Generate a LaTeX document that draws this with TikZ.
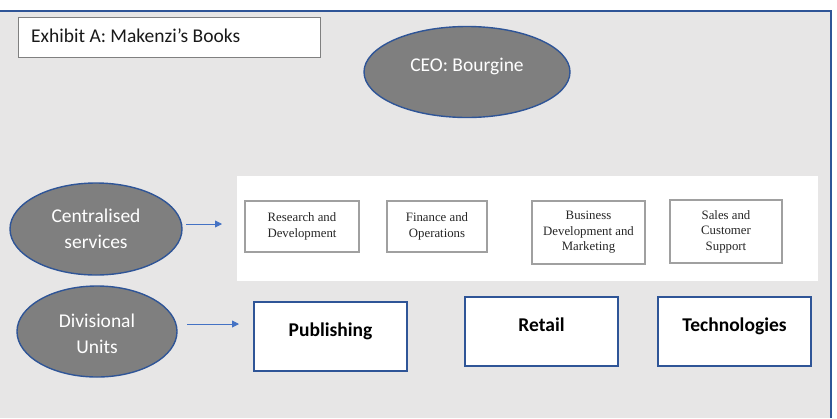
\documentclass[tikz,border=0pt]{standalone}
\usepackage{fontspec}
\setmainfont{Carlito}
\newfontfamily\serifbox{Liberation Serif}
\usetikzlibrary{shapes.geometric,arrows.meta}
\definecolor{bggray}{HTML}{E7E6E6}
\definecolor{ellfill}{HTML}{7F7F7F}
\definecolor{ellline}{HTML}{2F5597}
\definecolor{arrblue}{HTML}{4472C4}
\definecolor{boxgray}{HTML}{A0A0A0}
\definecolor{titleline}{HTML}{808080}
\tikzset{
  ell/.style={ellipse, draw=ellline, fill=ellfill, line width=1.4pt, text=white, align=center, inner sep=0pt,
    font=\fontsize{19.5}{26}\selectfont},
  graybox/.style={rectangle, draw=boxgray, fill=white, line width=2.8pt, align=center, inner sep=0pt,
    font=\serifbox\fontsize{12.8}{15.5}\selectfont, text=black!85},
  bluebox/.style={rectangle, draw=ellline, fill=white, line width=1.6pt, inner sep=0pt,
    font=\bfseries\fontsize{19.5}{24}\selectfont, text=black},
  conn/.style={draw=arrblue, line width=0.9pt, -{Triangle[length=7pt,width=7pt]}}
}
\begin{document}
\begin{tikzpicture}[x=1pt,y=-1pt]
\useasboundingbox (0,0) rectangle (837,418);
% outer frame
\fill[bggray] (0,11) rectangle (831,418);
\draw[ellline, line width=1.5pt] (0,11) -- (831,11) -- (831,418);
% title
\node[draw=titleline, fill=white, line width=0.8pt, minimum width=302, minimum height=40, inner sep=0pt,
  anchor=north west] (title) at (18,17) {};
\node[anchor=west, inner sep=0pt, font=\fontsize{19.5}{24}\selectfont, text=black!90] (titletext) at (31,36) {Exhibit A: Makenzi’s Books};
% CEO
\node[ell, minimum width=206, minimum height=91] (ceo) at (467,72) {\raisebox{14pt}{CEO: Bourgine}};
% left ellipses
\node[ell, minimum width=172, minimum height=92] (cs) at (96,229) {\raisebox{-6.9pt}[0pt][0pt]{\begin{tabular}{@{}c@{}}Centralised\\services\end{tabular}}};
\node[ell, minimum width=160, minimum height=91] (du) at (97,331.5) {\raisebox{-8.9pt}[0pt][0pt]{\begin{tabular}{@{}c@{}}Divisional\\Units\end{tabular}}};
% white panel
\node[rectangle, fill=white, minimum width=581, minimum height=105, inner sep=0pt, anchor=north west] (panel) at (237,176) {};
% centralised boxes
\node[graybox, minimum width=114, minimum height=51] (rd) at (302,226.5) {Research and\\Development};
\node[graybox, minimum width=100, minimum height=51] (fin) at (437,226.5) {Finance and\\Operations};
\node[graybox, minimum width=113, minimum height=63] (bus) at (588.5,232.5) {Business\\Development and\\Marketing};
\node[graybox, minimum width=112, minimum height=63] (sales) at (726,231.5) {\raisebox{1.5pt}{\begin{tabular}{@{}c@{}}Sales and\\Customer\\Support\end{tabular}}};
% divisional boxes
\node[bluebox, minimum width=153, minimum height=69] (pub) at (330.5,336.5) {\raisebox{14pt}{Publishing}};
\node[bluebox, minimum width=153, minimum height=69] (ret) at (541.5,331.5) {\raisebox{14pt}{Retail}};
\node[bluebox, minimum width=153, minimum height=69] (tech) at (734.5,331.5) {\raisebox{14pt}{Technologies}};
% arrows
\coordinate (a1s) at (186,224);
\coordinate (a1e) at (222,224);
\coordinate (a2s) at (187,324);
\coordinate (a2e) at (239,324);
\draw[conn] (a1s) -- (a1e);
\draw[conn] (a2s) -- (a2e);
\end{tikzpicture}
\end{document}
